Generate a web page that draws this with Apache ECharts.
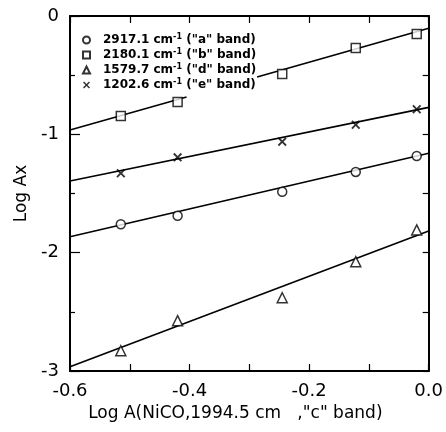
<!DOCTYPE html>
<html>
<head>
<meta charset="utf-8">
<script src="https://cdn.jsdelivr.net/npm/echarts@6/dist/echarts.min.js"></script>
<style>html,body{margin:0;padding:0;background:#fff}#c{width:446px;height:432px}</style>
</head>
<body>
<div id="c"></div>
<script>
// ---- data ----
var xValues = [-0.515, -0.420, -0.245, -0.122, -0.020];   // Log A(NiCO, "c" band)
var bandA = [-1.760, -1.688, -1.485, -1.318, -1.183];       // 2917.1 cm-1 ("a" band)
var bandB = [-0.845, -0.727, -0.490, -0.270, -0.152];       // 2180.1 cm-1 ("b" band)
var bandD = [-2.829, -2.575, -2.381, -2.076, -1.808];       // 1579.7 cm-1 ("d" band)
var bandE = [-1.329, -1.194, -1.062, -0.919, -0.788];       // 1202.6 cm-1 ("e" band)
// fitted straight lines: value at x = -0.6 and at x = 0.0
var fitX = [-0.6, 0.0];
var fitA = [-1.865, -1.160];
var fitB = [-0.963, -0.104];
var fitD = [-2.964, -1.817];
var fitE = [-1.394, -0.772];
var fitBGap = [-0.405, -0.287];  // line B hidden behind legend between these x
var seriesNames = ['2917.1 cm-1 ("a" band)', '2180.1 cm-1 ("b" band)', '1579.7 cm-1 ("d" band)', '1202.6 cm-1 ("e" band)'];
var legendRich = {
  '2917.1 cm-1 ("a" band)': '{f|2917.1 cm}{s|-1}{t| ("a" band)}',
  '2180.1 cm-1 ("b" band)': '{f|2180.1 cm}{s|-1}{t| ("b" band)}',
  '1579.7 cm-1 ("d" band)': '{f|1579.7 cm}{s|-1}{t| ("d" band)}',
  '1202.6 cm-1 ("e" band)': '{f|1202.6 cm}{s|-1}{t| ("e" band)}'
};
var xTitle = 'Log A(NiCO,1994.5 cm   ,"c" band)';
var yTitle = 'Log Ax';

function pts(ys) { return xValues.map(function (x, i) { return [x, ys[i]]; }); }
function lineAt(f, x) { return f[0] + (f[1] - f[0]) * (x - fitX[0]) / (fitX[1] - fitX[0]); }
function fitPts(f) { return [[fitX[0], f[0]], [fitX[1], f[1]]]; }
function fitPtsGap(f, g) {
  return [[fitX[0], f[0]], [g[0], lineAt(f, g[0])], '-', [g[1], lineAt(f, g[1])], [fitX[1], f[1]]];
}

var FONT = 'DejaVu Sans';
var crossPath = 'path://M0,1.5 L1.5,0 L5,3.5 L8.5,0 L10,1.5 L6.5,5 L10,8.5 L8.5,10 L5,6.5 L1.5,10 L0,8.5 L3.5,5 Z';

var chart = echarts.init(document.getElementById('c'));
function axisLine() { return { show: true, onZero: false, lineStyle: { color: '#000', width: 2 } }; }
var tickStyle = { color: '#000', width: 1.2 };
var option = {
  animation: false,
  backgroundColor: '#fff',
  grid: { left: 70, right: 16, top: 16, bottom: 61 },
  xAxis: [{
    type: 'value', min: -0.6, max: 0, interval: 0.2, position: 'bottom',
    axisLine: axisLine(),
    axisTick: { inside: true, length: 7, lineStyle: tickStyle },
    minorTick: { show: true, splitNumber: 2, length: 7, lineStyle: tickStyle },
    splitLine: { show: false },
    axisLabel: { color: '#000', fontFamily: FONT, fontSize: 18, margin: 11,
      formatter: function (v) { return v.toFixed(1); } },
    name: xTitle, nameLocation: 'middle', nameGap: 30,
    nameTextStyle: { color: '#000', fontFamily: FONT, fontSize: 17, padding: [0, 28, 0, 0] }
  }, {
    type: 'value', min: -0.6, max: 0, interval: 0.2, position: 'top',
    axisLine: axisLine(),
    axisTick: { inside: true, length: 7, lineStyle: tickStyle },
    minorTick: { show: true, splitNumber: 2, length: 7, lineStyle: tickStyle },
    splitLine: { show: false }, axisLabel: { show: false }
  }],
  yAxis: [{
    type: 'value', min: -3, max: 0, interval: 1, position: 'left',
    axisLine: axisLine(),
    axisTick: { inside: true, length: 10, lineStyle: tickStyle },
    minorTick: { show: true, splitNumber: 2, length: 5, lineStyle: tickStyle },
    splitLine: { show: false },
    axisLabel: { color: '#000', fontFamily: FONT, fontSize: 18, margin: 11 },
    name: yTitle, nameLocation: 'middle', nameGap: 39, nameRotate: 90,
    nameTextStyle: { color: '#000', fontFamily: FONT, fontSize: 17 }
  }, {
    type: 'value', min: -3, max: 0, interval: 1, position: 'right',
    axisLine: axisLine(),
    axisTick: { inside: true, length: 6, lineStyle: tickStyle },
    minorTick: { show: true, splitNumber: 2, length: 6, lineStyle: tickStyle },
    splitLine: { show: false }, axisLabel: { show: false }
  }],
  legend: {
    data: seriesNames,
    orient: 'vertical', left: 77, top: 28, itemGap: 2,
    itemWidth: 7, itemHeight: 7,
    formatter: function (n) { return legendRich[n]; },
    textStyle: {
      color: '#000', fontFamily: FONT,
      rich: {
        f: { fontSize: 12, fontWeight: 'bold', fontFamily: FONT, color: '#000', padding: [0, 0, 0, 8], lineHeight: 14 },
        t: { fontSize: 12, fontWeight: 'bold', fontFamily: FONT, color: '#000', lineHeight: 14 },
        s: { fontSize: 8, fontWeight: 'bold', fontFamily: FONT, color: '#000', verticalAlign: 'top', lineHeight: 8 }
      }
    }
  },
  series: [
    { name: seriesNames[0], type: 'scatter', data: pts(bandA), symbol: 'circle', symbolSize: 9, z: 3,
      itemStyle: { color: '#fff', borderColor: '#000', borderWidth: 1.5 } },
    { name: seriesNames[1], type: 'scatter', data: pts(bandB), symbol: 'rect', symbolSize: 9, z: 3,
      itemStyle: { color: '#fff', borderColor: '#000', borderWidth: 1.5 } },
    { name: seriesNames[2], type: 'scatter', data: pts(bandD), symbol: 'triangle', symbolSize: 10, z: 3,
      itemStyle: { color: '#fff', borderColor: '#000', borderWidth: 1.5 } },
    { name: seriesNames[3], type: 'scatter', data: pts(bandE), symbol: crossPath, symbolSize: 9, z: 3,
      itemStyle: { color: '#000' } },
    { name: 'fitA', type: 'line', data: fitPts(fitA), showSymbol: false, symbol: 'none', lineStyle: { color: '#000', width: 1.6 } },
    { name: 'fitB', type: 'line', data: fitPtsGap(fitB, fitBGap), connectNulls: false, showSymbol: false, symbol: 'none', lineStyle: { color: '#000', width: 1.6 } },
    { name: 'fitD', type: 'line', data: fitPts(fitD), showSymbol: false, symbol: 'none', lineStyle: { color: '#000', width: 1.6 } },
    { name: 'fitE', type: 'line', data: fitPts(fitE), showSymbol: false, symbol: 'none', lineStyle: { color: '#000', width: 1.6 } }
  ]
};
chart.setOption(option);
</script>
</body>
</html>
